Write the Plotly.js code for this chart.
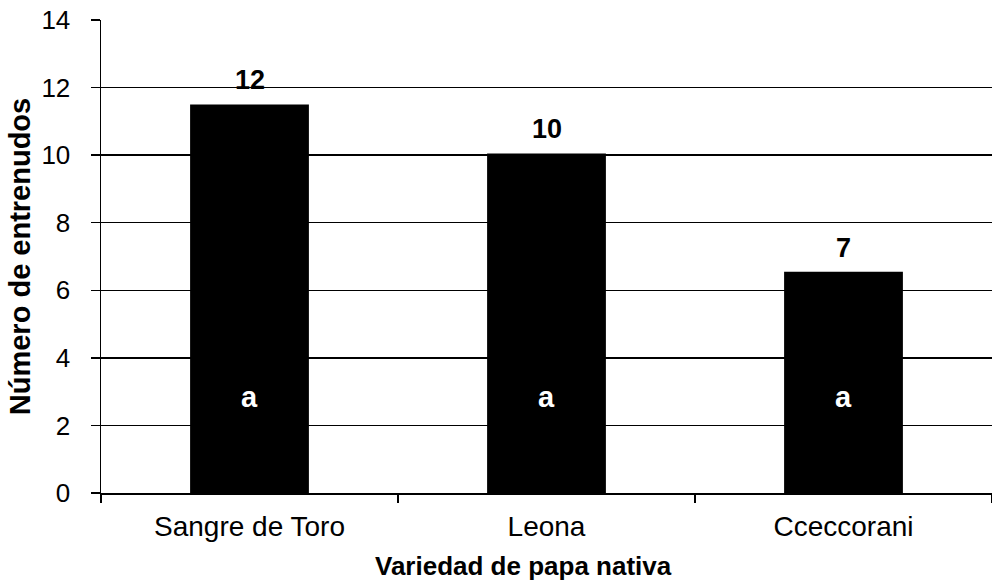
<!DOCTYPE html>
<html>
<head>
<meta charset="utf-8">
<script src="https://cdn.plot.ly/plotly-3.0.1.min.js"></script>
<style>html,body{margin:0;padding:0;background:#fff;}#chart{width:992px;height:585px;}</style>
</head>
<body>
<div id="chart"></div>
<script>
const categories = ["Sangre de Toro", "Leona", "Cceccorani"];
const values = [11.5, 10.05, 6.55];
const valueLabels = ["12", "10", "7"];
const letters = ["a", "a", "a"];
const letterY = 2.85;
const yTicks = [0, 2, 4, 6, 8, 10, 12, 14];
const xTitle = "Variedad de papa nativa";
const yTitle = "Número de entrenudos";

const FONT = "Liberation Sans, Arial, sans-serif";

const annotations = [];
categories.forEach((c, i) => {
  annotations.push({
    x: c, y: values[i], xref: "x", yref: "y",
    text: "<b>" + valueLabels[i] + "</b>", showarrow: false,
    yanchor: "bottom", yshift: 7,
    font: {family: FONT, size: 27, color: "#000"}
  });
  annotations.push({
    x: c, y: letterY, xref: "x", yref: "y",
    text: "<b>" + letters[i] + "</b>", showarrow: false,
    yanchor: "middle",
    font: {family: FONT, size: 29, color: "#fff"}
  });
});
annotations.push({
  x: 0.4747, y: -0.154, xref: "paper", yref: "paper",
  xanchor: "center", yanchor: "middle", showarrow: false,
  text: "<b>" + xTitle + "</b>",
  font: {family: FONT, size: 26, color: "#000"}
});

const data = [{
  type: "bar",
  x: categories,
  y: values,
  width: 0.4,
  marker: {color: "#000", line: {width: 0}},
  hoverinfo: "skip"
}];

const layout = {
  width: 992, height: 585,
  margin: {l: 101, r: 0, t: 20, b: 92, pad: 0},
  paper_bgcolor: "#fff", plot_bgcolor: "#fff",
  showlegend: false,
  font: {family: FONT, color: "#000"},
  xaxis: {
    type: "category",
    range: [-0.5, 2.5],
    tickson: "boundaries",
    ticks: "outside", ticklen: 8, tickwidth: 1.5, tickcolor: "#000",
    showline: true, linecolor: "#000", linewidth: 1.5,
    showgrid: false, zeroline: false,
    ticklabelstandoff: 8,
    tickfont: {family: FONT, size: 28, color: "#000"}
  },
  yaxis: {
    range: [0, 14],
    tickvals: yTicks,
    ticktext: yTicks.map(String),
    ticks: "outside", ticklen: 9, tickwidth: 1.5, tickcolor: "#000",
    showline: true, linecolor: "#000", linewidth: 1.5,
    showgrid: true, gridcolor: "#000", gridwidth: 1.5,
    zeroline: false,
    ticklabelstandoff: 15,
    tickfont: {family: FONT, size: 26, color: "#000"},
    title: {text: "<b>" + yTitle + "</b>", font: {family: FONT, size: 29, color: "#000"}, standoff: 2}
  },
  annotations: annotations
};

Plotly.newPlot("chart", data, layout, {staticPlot: true, displayModeBar: false});
</script>
</body>
</html>
